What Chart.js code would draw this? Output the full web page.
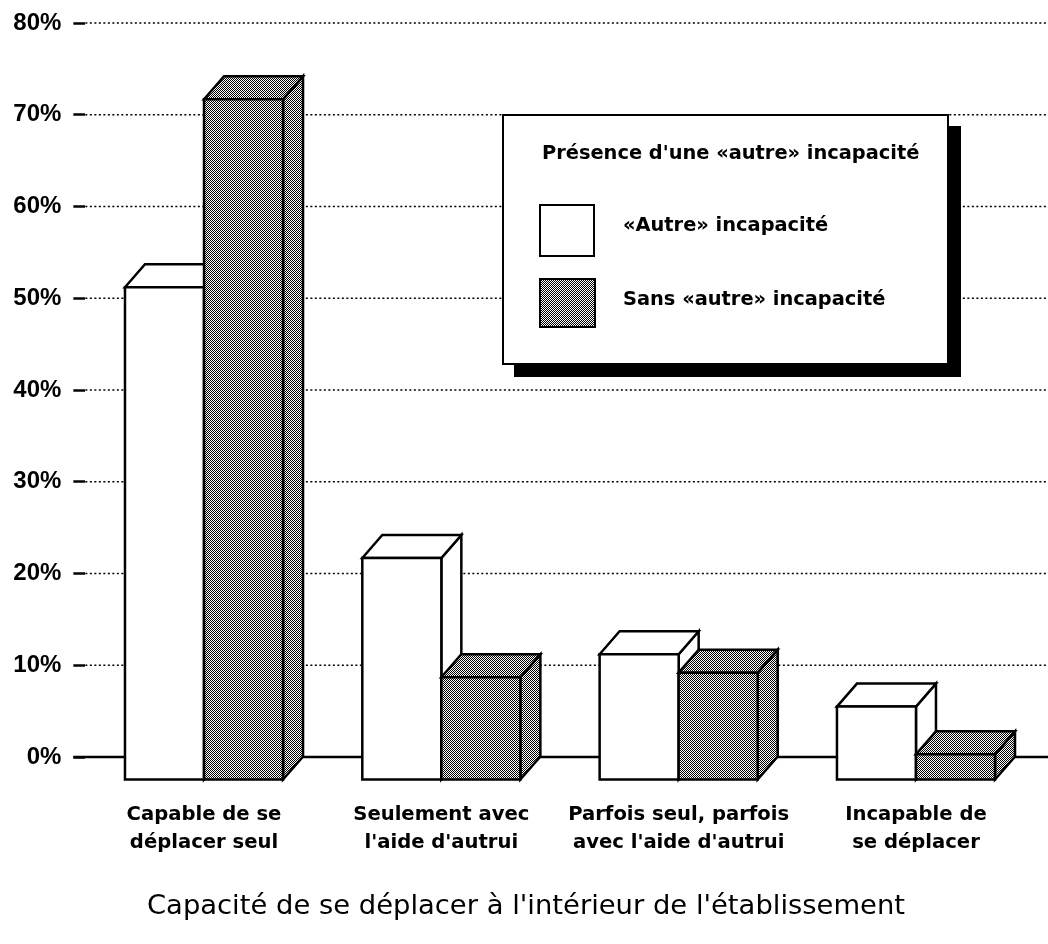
<!DOCTYPE html>
<html>
<head>
<meta charset="utf-8">
<script src="https://cdn.jsdelivr.net/npm/chart.js@4.4.1/dist/chart.umd.min.js"></script>
<style>
  body { margin: 0; background: #fff; }
  #wrap { position: relative; width: 1048px; height: 944px; }
  #legend {
    position: absolute; left: 502px; top: 114px; width: 447px; height: 251px;
    box-sizing: border-box; border: 2px solid #000; background: #fff;
    box-shadow: 12px 12px 0 #000;
    font-family: 'DejaVu Sans', sans-serif; font-weight: bold; font-size: 19.4px; color: #000;
  }
  #legend .t { position: absolute; white-space: nowrap; line-height: 24px; }
  #legend .sw { position: absolute; box-sizing: border-box; border: 2.5px solid #000; background: #fff; }
  #title {
    position: absolute; left: 0; width: 1052px; top: 887px; line-height: 36px; text-align: center;
    font-family: 'DejaVu Sans', sans-serif; font-size: 27.4px; color: #000; white-space: nowrap;
  }
</style>
</head>
<body>
<div id="wrap">
  <canvas id="chart" width="1048" height="944"></canvas>
  <div id="legend">
    <div class="t" style="left:38px; top:25px;">Présence d'une «autre» incapacité</div>
    <div class="sw" style="left:35px; top:88px; width:56px; height:53px;"></div>
    <div class="t" style="left:119px; top:97px;">«Autre» incapacité</div>
    <div class="sw" id="sw2" style="left:35px; top:162px; width:57px; height:50px;"></div>
    <div class="t" style="left:119px; top:171px;">Sans «autre» incapacité</div>
  </div>
  <div id="title"></div>
</div>
<script>
const categories = [
    ['Capable de se', 'déplacer seul'],
    ['Seulement avec', "l'aide d'autrui"],
    ['Parfois seul, parfois', "avec l'aide d'autrui"],
    ['Incapable de', 'se déplacer']
];
const seriesNames = ['«Autre» incapacité', 'Sans «autre» incapacité'];
const autreIncapacite = [53.7, 24.2, 13.7, 8.0];
const sansAutreIncapacite = [74.2, 11.2, 11.7, 2.8];
const yMin = 0;
const yMax = 80;
const yStep = 10;
const axisTitle = "Capacité de se déplacer à l'intérieur de l'établissement";

document.getElementById('title').textContent = axisTitle;

// depth of the 3D boxes
const dx = 20;
const dy = 23;

// dithered grey fill
const pc = document.createElement('canvas');
pc.width = 2; pc.height = 2;
const pctx = pc.getContext('2d');
pctx.fillStyle = '#fff';
pctx.fillRect(0, 0, 2, 2);
pctx.fillStyle = '#000';
pctx.fillRect(0, 0, 1, 1);
pctx.fillRect(1, 1, 1, 1);
const ctx = document.getElementById('chart').getContext('2d');
const greyPattern = ctx.createPattern(pc, 'repeat');
document.getElementById('sw2').style.backgroundImage = 'url(' + pc.toDataURL() + ')';

const fills = ['#fff', greyPattern];

function drawBox(c, bar, fill) {
    const { x, y, base, width } = bar.getProps(['x', 'y', 'base', 'width'], true);
    const l = x - width / 2, r = x + width / 2;
    const ft = y + dy, fb = base + dy;
    c.fillStyle = fill;
    c.strokeStyle = '#000';
    c.lineWidth = 2.5;
    c.lineJoin = 'miter';
    // side
    c.beginPath();
    c.moveTo(r, ft); c.lineTo(r + dx, y); c.lineTo(r + dx, base); c.lineTo(r, fb); c.closePath();
    c.fill(); c.stroke();
    // top
    c.beginPath();
    c.moveTo(l, ft); c.lineTo(l + dx, y); c.lineTo(r + dx, y); c.lineTo(r, ft); c.closePath();
    c.fill(); c.stroke();
    // front
    c.beginPath();
    c.rect(l, ft, width, fb - ft);
    c.fill(); c.stroke();
}

const box3d = {
    id: 'box3d',
    beforeDatasetsDraw(chart) {
        const c = chart.ctx;
        const ys = chart.scales.y;
        const left = chart.chartArea.left;
        const right = chart.width;
        c.save();
        ys.ticks.forEach(t => {
            const py = ys.getPixelForValue(t.value);
            c.beginPath();
            if (t.value === 0) {
                c.setLineDash([]);
                c.lineWidth = 2.5;
                c.moveTo(left - 12, py);
            } else {
                c.setLineDash([2, 2.5]);
                c.lineWidth = 1.5;
                c.moveTo(left, py);
            }
            c.lineTo(right, py);
            c.strokeStyle = '#000';
            c.stroke();
        });
        c.restore();
    },
    afterDatasetsDraw(chart) {
        const c = chart.ctx;
        c.save();
        const metas = chart.data.datasets.map((d, i) => chart.getDatasetMeta(i));
        for (let j = 0; j < categories.length; j++) {
            metas.forEach((m, i) => drawBox(c, m.data[j], fills[i]));
        }
        c.restore();
    }
};

new Chart(ctx, {
    type: 'bar',
    data: {
        labels: categories,
        datasets: [
            { label: seriesNames[0], data: autreIncapacite, backgroundColor: 'rgba(0,0,0,0)', borderWidth: 0 },
            { label: seriesNames[1], data: sansAutreIncapacite, backgroundColor: 'rgba(0,0,0,0)', borderWidth: 0 }
        ]
    },
    options: {
        responsive: false,
        animation: false,
        layout: { padding: { top: 23, right: 13.35, left: 0, bottom: 0 } },
        datasets: { bar: { categoryPercentage: 0.666, barPercentage: 1 } },
        scales: {
            y: {
                min: yMin, max: yMax,
                afterFit: s => { s.width = 85.35; s.paddingTop = 0; s.paddingBottom = 0; },
                grid: { drawOnChartArea: false, drawTicks: true, tickLength: 12, tickWidth: 2.5, tickColor: '#000' },
                border: { display: false },
                ticks: {
                    stepSize: yStep, padding: 12, color: '#000',
                    font: { family: 'Liberation Sans', weight: 'bold', size: 24 },
                    callback: v => v + '%'
                }
            },
            x: {
                afterFit: s => { s.height = 187; },
                grid: { display: false, drawTicks: false, tickLength: 0 },
                border: { display: false },
                ticks: {
                    padding: 44, color: '#000', autoSkip: false, maxRotation: 0,
                    font: { family: 'DejaVu Sans', weight: 'bold', size: 19.6, lineHeight: 28 / 19.6 }
                }
            }
        },
        plugins: { legend: { display: false }, tooltip: { enabled: false } }
    },
    plugins: [box3d]
});
</script>
</body>
</html>
